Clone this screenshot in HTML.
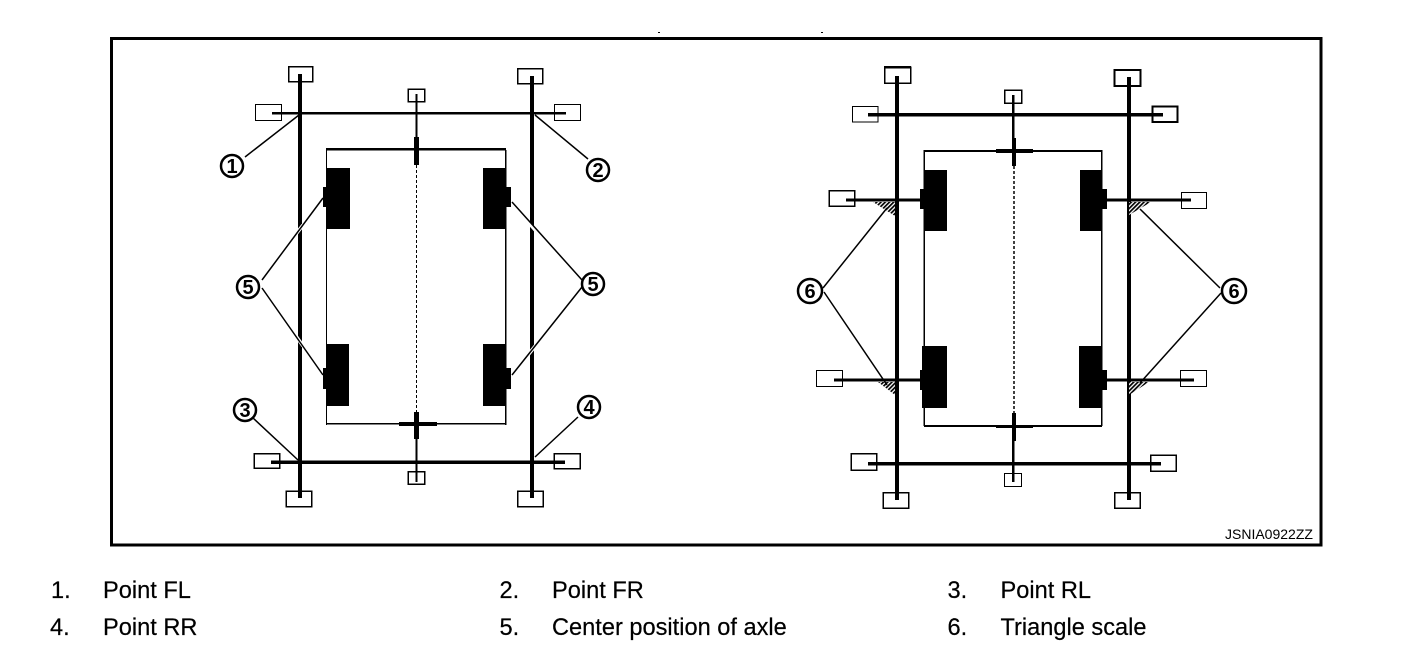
<!DOCTYPE html>
<html><head><meta charset="utf-8"><style>
html,body{margin:0;padding:0;background:#fff;width:1408px;height:650px;overflow:hidden}
svg{display:block}
text{font-family:"Liberation Sans",Arial,sans-serif;fill:#000}
.l{font-size:23.6px;stroke:#000;stroke-width:.2}
.c{font-size:20px;font-weight:bold;text-anchor:middle}
.b{fill:#fff;stroke:#000;stroke-width:1.5}
.t{fill:#fff;stroke:#000;stroke-width:1}
.ld{stroke:#000;stroke-width:1.5;fill:none}
.h{stroke:#fff;stroke-width:3.5;fill:none}
.o{fill:#fff;stroke:#000;stroke-width:2.5}
</style></head><body>
<svg width="1408" height="650" viewBox="0 0 1408 650" xmlns="http://www.w3.org/2000/svg">
<defs><pattern id="ht" width="3" height="3" patternUnits="userSpaceOnUse" patternTransform="rotate(45)"><rect width="3" height="3" fill="#fff"/><rect width="1.7" height="3" fill="#000"/></pattern></defs>
<rect x="658" y="32" width="2" height="1" fill="#000"/><rect x="821" y="32" width="2" height="1" fill="#000"/>
<rect x="111.500" y="38.500" width="1209.500" height="506.500" fill="none" stroke="#000" stroke-width="3"/>

<!-- LEFT DIAGRAM -->
<g shape-rendering="crispEdges">
<rect class="b" x="288.500" y="66.500" width="24" height="15"/>
<rect class="b" x="517.500" y="68.500" width="25" height="15"/>
<rect class="t" x="255.500" y="104.500" width="26" height="16"/>
<rect class="t" x="554.500" y="104.500" width="26" height="16"/>
<rect class="b" x="408" y="89" width="16.500" height="12.500"/>
<rect class="b" x="254" y="453.500" width="25.500" height="14.500"/>
<rect class="b" x="554" y="453.500" width="26" height="15"/>
<rect class="b" x="408" y="471.500" width="16.500" height="12.500"/>
<rect class="b" x="286" y="491" width="25.500" height="15.500"/>
<rect class="b" x="517.500" y="491" width="25.500" height="15.500"/>
<rect x="298" y="74" width="4" height="424"/>
<rect x="530" y="76" width="4" height="422"/>
<rect x="272" y="112" width="294" height="2.500"/>
<rect x="271" y="460.500" width="294" height="3.500"/>
<rect x="415.500" y="94" width="2" height="56"/>
<rect x="414" y="137" width="5" height="28"/>
<rect x="415.500" y="438" width="2" height="44"/>
<rect x="414" y="412" width="5" height="27"/>
<rect x="399" y="422" width="38" height="4"/>
<rect x="326" y="148" width="180" height="2.500"/>
<rect x="326" y="150" width="1" height="275"/>
<rect x="505" y="150" width="1.500" height="275"/>
<rect x="326" y="423" width="180" height="1.500"/>
<rect x="326" y="168" width="24" height="61"/>
<rect x="483" y="168" width="23" height="61"/>
<rect x="323" y="187" width="4" height="20"/>
<rect x="505" y="187" width="6" height="20"/>
<rect x="326" y="344" width="23" height="62"/>
<rect x="483" y="344" width="23" height="62"/>
<rect x="323" y="368" width="4" height="21"/>
<rect x="505" y="368" width="6" height="21"/>
</g>
<line x1="416.500" y1="165" x2="416.500" y2="412" stroke="#000" stroke-width="1" stroke-dasharray="3 2"/>
<path class="h" d="M303 225L296 234M296 336L303 346M528 222L536 231M536 345L528 355"/>
<path class="ld" d="M299 115L245 157M535 115L588 159M323 198L262 280M262 288L323 375M512 202L582 280M582 287L512 375M253 418L298 460M578 417L535 457"/>
<circle class="o" cx="232" cy="166" r="11"/><text class="c" x="232" y="173">1</text>
<circle class="o" cx="598" cy="170" r="11"/><text class="c" x="598" y="177">2</text>
<circle class="o" cx="248" cy="287" r="11"/><text class="c" x="248" y="294">5</text>
<circle class="o" cx="593" cy="284" r="11"/><text class="c" x="593" y="291">5</text>
<circle class="o" cx="245" cy="410" r="11"/><text class="c" x="245" y="417">3</text>
<circle class="o" cx="589" cy="407" r="11"/><text class="c" x="589" y="414">4</text>

<!-- RIGHT DIAGRAM -->
<g shape-rendering="crispEdges">
<rect class="b" x="884.500" y="67" width="26" height="16"/><rect x="884" y="66" width="27" height="2.500"/>
<rect class="b" x="1114.500" y="70" width="26" height="16" style="stroke-width:2"/>
<rect class="t" x="852.500" y="106.500" width="25.500" height="15.500"/>
<rect class="b" x="1152.500" y="106.500" width="25" height="15.500" style="stroke-width:2"/>
<rect class="b" x="1004.500" y="90" width="17" height="13"/>
<rect class="b" x="829" y="190.500" width="25.500" height="15.500"/>
<rect class="t" x="1181.500" y="192.500" width="25" height="16"/>
<rect class="t" x="816.500" y="370.500" width="26" height="16"/>
<rect class="t" x="1180.500" y="370.500" width="26" height="16"/>
<rect class="b" x="851" y="453.500" width="25.500" height="16.500"/>
<rect class="b" x="1150.500" y="455" width="25.500" height="16"/>
<rect class="t" x="1004.500" y="473.500" width="17" height="13"/>
<rect class="b" x="883" y="492.500" width="25.500" height="15.500"/>
<rect class="b" x="1114.500" y="492.500" width="25.500" height="15.500"/>
<rect x="895" y="76" width="4" height="424"/>
<rect x="1127" y="77" width="4" height="423"/>
<rect x="868" y="113" width="295" height="3.500"/>
<rect x="868" y="462" width="293" height="3.500"/>
<rect x="846" y="198.500" width="74" height="3"/>
<rect x="1107" y="198.500" width="84" height="3"/>
<rect x="834" y="378.500" width="86" height="3"/>
<rect x="1107" y="378.500" width="87" height="3"/>
<rect x="1012" y="95" width="2.500" height="55"/>
<rect x="1012" y="138" width="4" height="28"/>
<rect x="996" y="149" width="37" height="4"/>
<rect x="1012" y="440" width="2.500" height="42"/>
<rect x="1012" y="413" width="4" height="28"/>
<rect x="996" y="425" width="37" height="3"/>
<rect x="924" y="150" width="178" height="2"/>
<rect x="923.500" y="150" width="1.500" height="276"/>
<rect x="1101" y="150" width="1.500" height="276"/>
<rect x="924" y="425" width="178" height="2"/>
<rect x="924" y="170" width="23" height="61"/>
<rect x="1080" y="170" width="22" height="61"/>
<rect x="920" y="189" width="5" height="20"/>
<rect x="1101" y="189" width="6" height="20"/>
<rect x="922" y="346" width="25" height="62"/>
<rect x="1079" y="346" width="23" height="62"/>
<rect x="920" y="370" width="4" height="20"/>
<rect x="1101" y="370" width="6" height="20"/>
</g>
<line x1="1014" y1="166" x2="1014" y2="413" stroke="#000" stroke-width="1.500" stroke-dasharray="3 2"/>
<path d="M873 202H895V216Z M1151 202H1129V215Z M878 382H895V395Z M1149 382H1129V395Z" fill="url(#ht)"/>
<path class="ld" d="M887 208L823 288M824 292L887 385M1140 209L1220 288M1221 293L1140 383"/>
<circle class="o" cx="810" cy="291" r="12"/><text class="c" x="810" y="298">6</text>
<circle class="o" cx="1234" cy="291" r="12"/><text class="c" x="1234" y="298">6</text>

<text x="1225" y="539" font-size="14">JSNIA0922ZZ</text>

<text class="l" x="51" y="598">1.</text><text class="l" x="103" y="598">Point FL</text>
<text class="l" x="499.500" y="598">2.</text><text class="l" x="552" y="598">Point FR</text>
<text class="l" x="947.500" y="598">3.</text><text class="l" x="1000.500" y="598">Point RL</text>
<text class="l" x="50" y="635">4.</text><text class="l" x="103" y="635">Point RR</text>
<text class="l" x="499.500" y="635">5.</text><text class="l" x="552" y="635">Center position of axle</text>
<text class="l" x="947.500" y="635">6.</text><text class="l" x="1000.500" y="635">Triangle scale</text>
</svg>
</body></html>
